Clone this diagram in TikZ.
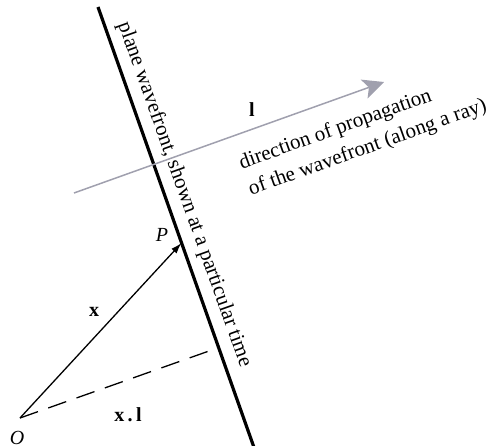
\documentclass[tikz,border=0pt]{standalone}
\usepackage{fontspec}
\setmainfont{Liberation Serif}
\usetikzlibrary{arrows.meta,calc}
\definecolor{raygrey}{RGB}{160,160,174}
\begin{document}
\begin{tikzpicture}[x=1pt,y=1pt,
  lbl/.style={inner sep=0pt, font=\fontsize{20}{24}\selectfont},
  txt/.style={inner sep=0pt, font=\fontsize{21}{28}\selectfont},
  wavefront/.style={line width=3.2pt},
  ray/.style={raygrey, line width=1.5pt, -{Stealth[length=21pt,width=20pt,inset=5pt]}},
  vec/.style={line width=1.3pt, -{Latex[length=11pt,width=7pt]}},
  proj/.style={line width=1.3pt, dash pattern=on 19pt off 11pt}]
\useasboundingbox (0,0) rectangle (490,445);
\coordinate (T) at (98,438);
\coordinate (B) at (254.2,-3);
\coordinate (O) at (20,27);
\coordinate (P) at (181.5,202);
\coordinate (F) at ($(T)!(O)!(B)$);
\coordinate (G1) at (74,252);
\coordinate (G2) at (384,363);
% wavefront
\draw[wavefront] (T) -- (B);
% ray
\draw[ray] (G1) -- (G2);
% vectors
\draw[vec] (O) -- (P);
\draw[proj] (O) -- (F);
% labels
\node[txt, rotate=-70.35, anchor=base] (wtxt) at (179.5,248.6) {plane wavefront, shown at a particular time};
\node[txt, rotate=19.76, align=left] (rtxt) at (363,310) {direction of propagation\\of the wavefront (along a ray)};
\node[lbl] (llab) at (252,335) {\textbf{l}};
\node[lbl] (xlab) at (94,133) {\textbf{x}};
\node[lbl] (xllab) at (128,30) {\textbf{x\,.\,l}};
\node[lbl] (Olab) at (17,7) {\textit{O}};
\node[lbl] (Plab) at (162,210) {\textit{P}};
\end{tikzpicture}
\end{document}
